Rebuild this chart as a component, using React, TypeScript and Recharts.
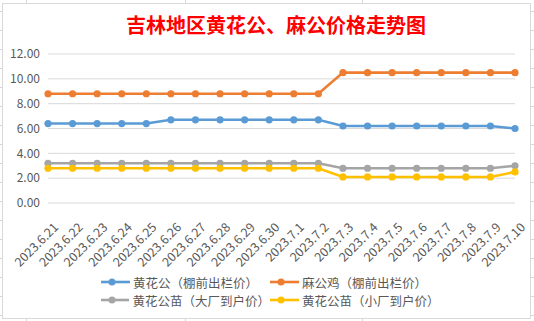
import React from "react";
import { LineChart, Line, XAxis, YAxis, CartesianGrid } from "recharts";

const dates = [
  "2023.6.21", "2023.6.22", "2023.6.23", "2023.6.24", "2023.6.25",
  "2023.6.26", "2023.6.27", "2023.6.28", "2023.6.29", "2023.6.30",
  "2023.7.1", "2023.7.2", "2023.7.3", "2023.7.4", "2023.7.5",
  "2023.7.6", "2023.7.7", "2023.7.8", "2023.7.9", "2023.7.10",
];

// 黄花公（棚前出栏价）
const huangPeng = [6.4, 6.4, 6.4, 6.4, 6.4, 6.7, 6.7, 6.7, 6.7, 6.7, 6.7, 6.7, 6.2, 6.2, 6.2, 6.2, 6.2, 6.2, 6.2, 6.0];
// 麻公鸡（棚前出栏价）
const maPeng = [8.8, 8.8, 8.8, 8.8, 8.8, 8.8, 8.8, 8.8, 8.8, 8.8, 8.8, 8.8, 10.5, 10.5, 10.5, 10.5, 10.5, 10.5, 10.5, 10.5];
// 黄花公苗（大厂到户价）
const miaoBig = [3.2, 3.2, 3.2, 3.2, 3.2, 3.2, 3.2, 3.2, 3.2, 3.2, 3.2, 3.2, 2.8, 2.8, 2.8, 2.8, 2.8, 2.8, 2.8, 3.0];
// 黄花公苗（小厂到户价）
const miaoSmall = [2.8, 2.8, 2.8, 2.8, 2.8, 2.8, 2.8, 2.8, 2.8, 2.8, 2.8, 2.8, 2.1, 2.1, 2.1, 2.1, 2.1, 2.1, 2.1, 2.5];

const yTicks = [0, 2, 4, 6, 8, 10, 12];

const series = [
  { key: "huangPeng", name: "黄花公（棚前出栏价）", color: "#5B9BD5" },
  { key: "maPeng", name: "麻公鸡（棚前出栏价）", color: "#ED7D31" },
  { key: "miaoBig", name: "黄花公苗（大厂到户价）", color: "#A5A5A5" },
  { key: "miaoSmall", name: "黄花公苗（小厂到户价）", color: "#FFC000" },
];

const data = dates.map((d, i) => ({
  date: d,
  huangPeng: huangPeng[i],
  maPeng: maPeng[i],
  miaoBig: miaoBig[i],
  miaoSmall: miaoSmall[i],
}));

const FONT = '"Noto Sans CJK SC", "Noto Sans", sans-serif';

function DateTick({ x, y, payload }: { x?: number; y?: number; payload?: { value: string } }) {
  return (
    <g transform={`translate(${(x ?? 0) + 5},${(y ?? 0) + 11}) rotate(-45)`}>
      <text textAnchor="end" fontSize={12.5} fill="#595959" fontFamily={FONT} dy="0.7em">
        {payload?.value}
      </text>
    </g>
  );
}

function LegendItem({ name, color }: { name: string; color: string }) {
  return (
    <div style={{ display: "flex", alignItems: "center", height: 18 }}>
      <svg width={29} height={10} style={{ marginRight: 3 }}>
        <line x1={0} y1={5} x2={29} y2={5} stroke={color} strokeWidth={2.6} />
        <circle cx={11} cy={5} r={3.5} fill={color} />
      </svg>
      <span style={{ fontSize: 12.5, color: "#595959", whiteSpace: "nowrap" }}>{name}</span>
    </div>
  );
}

export default function App() {
  return (
    <div
      style={{
        position: "absolute",
        left: 0,
        top: 0,
        width: 534,
        height: 321,
        overflow: "hidden",
        background: "#fff",
        backgroundImage: "repeating-linear-gradient(180deg, #d6d6dc 0 1px, transparent 1px 19.02px)",
        backgroundPosition: "0 11px",
        fontFamily: FONT,
      }}
    >
      {[26, 185, 362].map((x) => (
        <div key={x} style={{ position: "absolute", left: x, top: 0, width: 1, height: 321, background: "#d6d6dc" }} />
      ))}
      <div
        style={{
          position: "absolute",
          left: 2,
          top: 3,
          width: 527,
          height: 314,
          border: "1px solid #d9d9d9",
          background: "#fff",
        }}
      />
      <div
        style={{
          position: "absolute",
          left: 126,
          top: 14,
          fontSize: 20,
          lineHeight: "22px",
          fontWeight: 700,
          color: "#FF0000",
          whiteSpace: "nowrap",
        }}
      >
        吉林地区黄花公、麻公价格走势图
      </div>
      <div style={{ position: "absolute", left: 0, top: 0 }}>
        <LineChart width={534} height={321} data={data} margin={{ top: 54, right: 19, left: 8, bottom: 58 }}>
          <CartesianGrid vertical={false} stroke="#d9d9d9" strokeWidth={1} />
          <XAxis
            dataKey="date"
            axisLine={false}
            tickLine={false}
            interval={0}
            height={60}
            tick={<DateTick />}
          />
          <YAxis
            domain={[0, 12]}
            ticks={yTicks}
            width={40}
            axisLine={false}
            tickLine={false}
            tickFormatter={(v: number) => v.toFixed(2)}
            tick={{ fontSize: 12, fill: "#595959", fontFamily: FONT }}
          />
          {series.map((s) => (
            <Line
              key={s.key}
              type="linear"
              dataKey={s.key}
              name={s.name}
              stroke={s.color}
              strokeWidth={2.6}
              dot={{ r: 3.6, fill: s.color, stroke: s.color, strokeWidth: 0 }}
              activeDot={false}
              isAnimationActive={false}
            />
          ))}
        </LineChart>
      </div>
      <div
        style={{
          position: "absolute",
          left: 101,
          top: 273,
          display: "grid",
          gridTemplateColumns: "169px auto",
        }}
      >
        {series.map((s) => (
          <LegendItem key={s.key} name={s.name} color={s.color} />
        ))}
      </div>
    </div>
  );
}
